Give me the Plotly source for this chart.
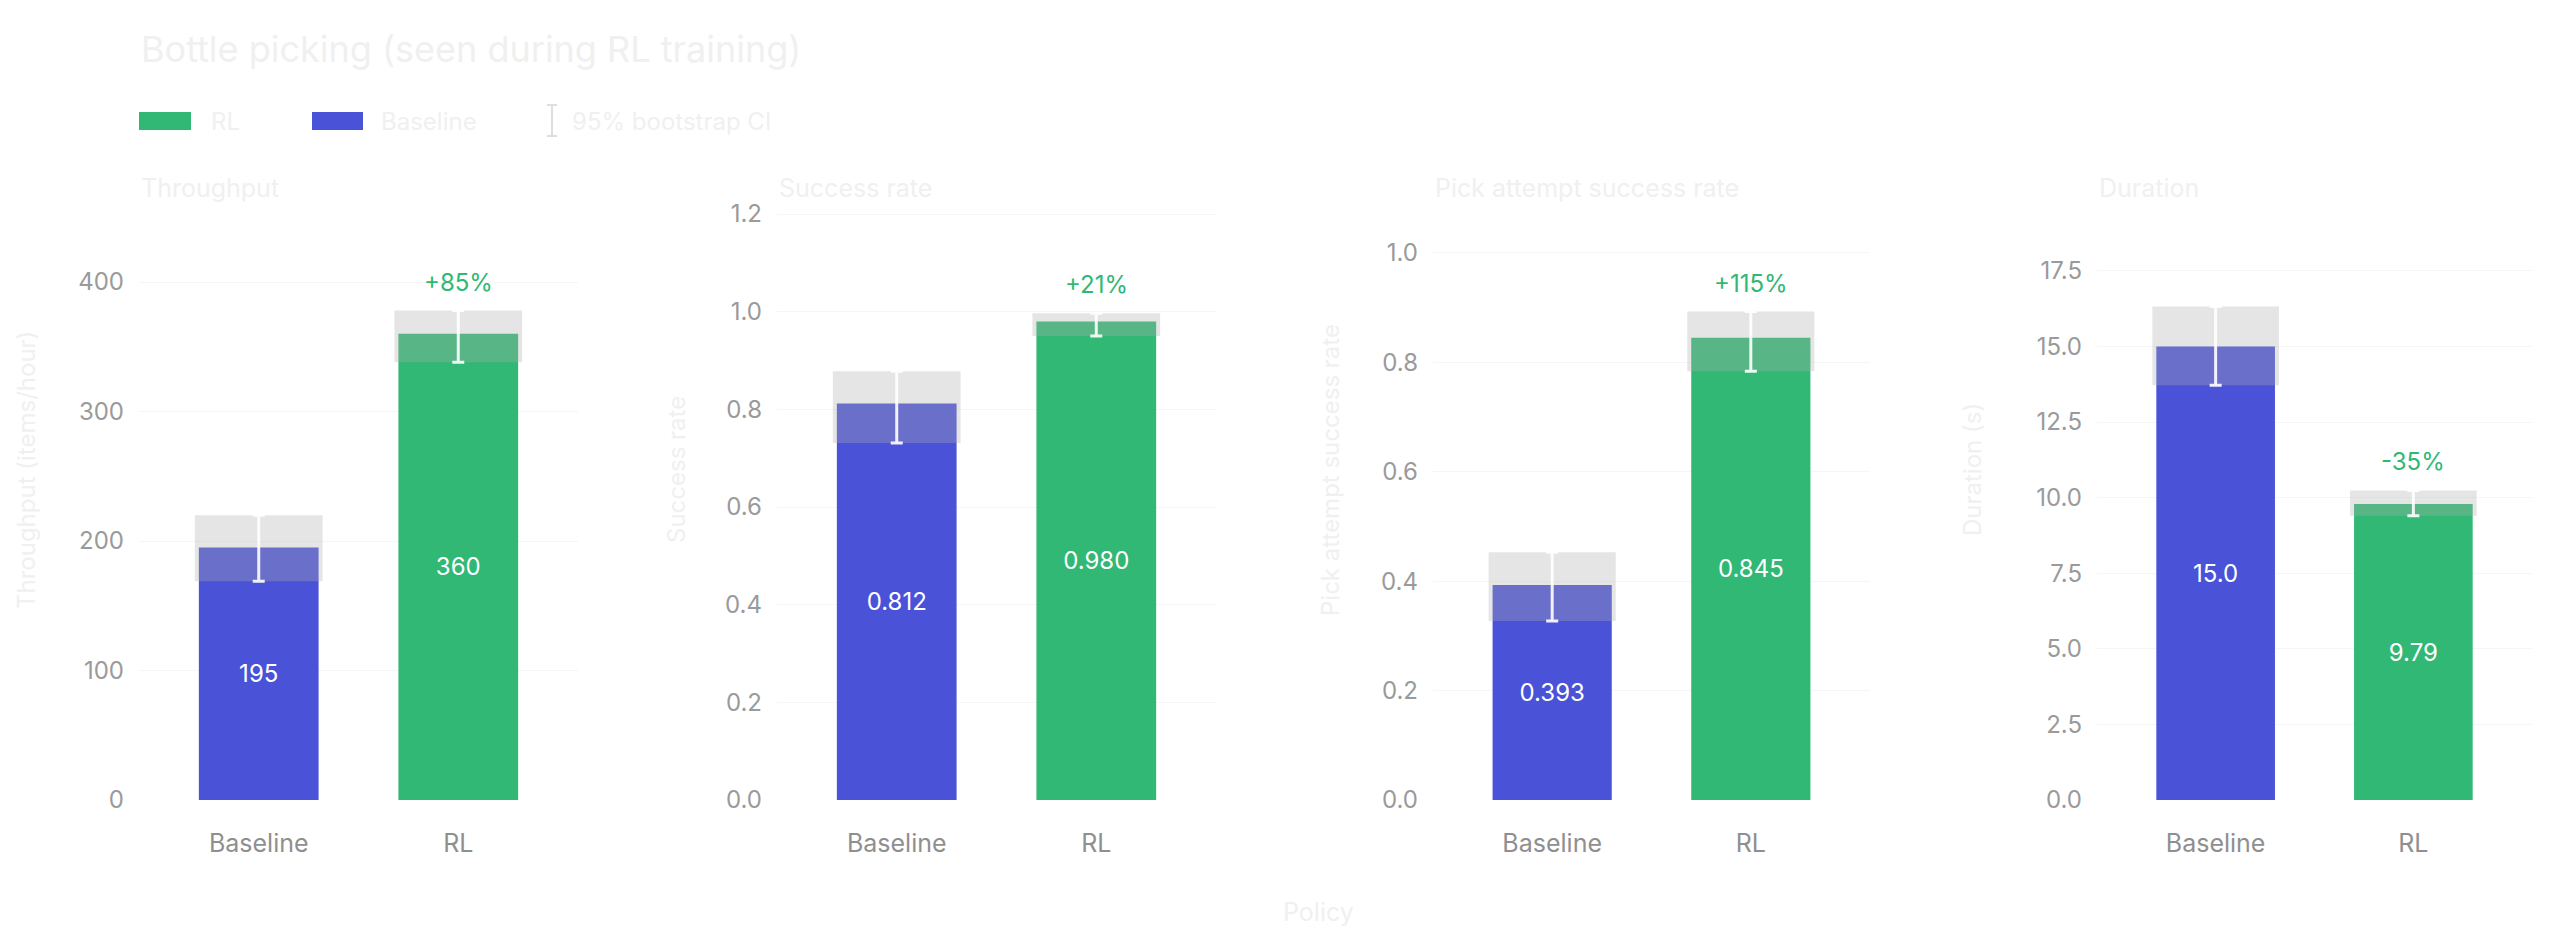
import plotly.graph_objects as go

# ---------------- data ----------------
categories = ["Baseline", "RL"]
panel_titles = ["Throughput", "Success rate", "Pick attempt success rate", "Duration"]
y_titles = ["Throughput (items/hour)", "Success rate", "Pick attempt success rate", "Duration (s)"]

throughput = [195, 360]
throughput_lo = [169, 338]
throughput_hi = [220, 378]

success = [0.812, 0.980]
success_lo = [0.731, 0.950]
success_hi = [0.878, 0.997]

pick = [0.393, 0.845]
pick_lo = [0.327, 0.784]
pick_hi = [0.453, 0.893]

duration = [15.0, 9.79]
duration_lo = [13.72, 9.40]
duration_hi = [16.32, 10.24]

value_labels = [["195", "360"], ["0.812", "0.980"], ["0.393", "0.845"], ["15.0", "9.79"]]
change_labels = ["+85%", "+21%", "+115%", "-35%"]

tick_vals = [
    [0, 100, 200, 300, 400],
    [0.0, 0.2, 0.4, 0.6, 0.8, 1.0, 1.2],
    [0.0, 0.2, 0.4, 0.6, 0.8, 1.0],
    [0.0, 2.5, 5.0, 7.5, 10.0, 12.5, 15.0, 17.5],
]
tick_formats = ["d", ".1f", ".1f", ".1f"]

# ---------------- styling ----------------
W, H = 2560, 945
FONT = "Inter, 'Noto Sans', sans-serif"
GREEN = "#30b874"
BLUE = "#4a52d8"
CI_FILL = "rgba(174,174,174,0.32)"
FAINT = "#f6f6f6"
TICK = "#9a9a9a"
PALE = "#f0f0f0"


def px(x):
    return x / W


def py(y):
    return 1 - y / H


series = [
    (throughput, throughput_lo, throughput_hi),
    (success, success_lo, success_hi),
    (pick, pick_lo, pick_hi),
    (duration, duration_lo, duration_hi),
]
x_domains_px = [(139, 578), (777, 1216), (1433, 1870), (2097, 2532)]
y_ranges = [459.5, 1.2185, 1.0877, 19.68]
ytitle_x_px = [26, 676, 1330, 1972]
plot_top, plot_bottom = 205, 800

fig = go.Figure()
annotations = []
shapes = []
layout_axes = {}

for i, (vals, lo, hi) in enumerate(series):
    n = "" if i == 0 else str(i + 1)
    xa, ya = "x" + n, "y" + n
    colors = [BLUE, GREEN]
    fig.add_trace(go.Bar(
        x=categories, y=vals, xaxis=xa, yaxis=ya, width=0.6,
        marker=dict(color=colors, line=dict(width=0)),
        text=value_labels[i], textposition="inside", insidetextanchor="middle",
        textfont=dict(color="white", size=24, family=FONT),
        hoverinfo="skip", showlegend=False,
    ))
    fig.add_trace(go.Bar(
        x=categories, y=[h - l for h, l in zip(hi, lo)], base=lo,
        xaxis=xa, yaxis=ya, width=0.64,
        marker=dict(color=CI_FILL, line=dict(width=0)),
        hoverinfo="skip", showlegend=False,
    ))
    fig.add_trace(go.Scatter(
        x=categories, y=vals, xaxis=xa, yaxis=ya, mode="markers",
        marker=dict(size=1, color="rgba(0,0,0,0)"),
        error_y=dict(type="data", symmetric=False,
                     array=[h - v for h, v in zip(hi, vals)],
                     arrayminus=[v - l for v, l in zip(vals, lo)],
                     color="rgba(255,255,255,0.9)", thickness=3, width=6),
        hoverinfo="skip", showlegend=False,
    ))
    x0, x1 = x_domains_px[i]
    layout_axes["xaxis" + n] = dict(
        domain=[px(x0), px(x1)], anchor=ya, type="category", automargin=False,
        range=[-0.6, 1.6], showgrid=False, zeroline=False, showline=False,
        ticks="", tickfont=dict(size=25, color="#8f8f8f", family=FONT),
        ticklabelstandoff=26,
    )
    layout_axes["yaxis" + n] = dict(
        domain=[py(plot_bottom), py(plot_top)], anchor=xa, automargin=False,
        range=[0, y_ranges[i]], tickvals=tick_vals[i], tickformat=tick_formats[i],
        showgrid=True, gridcolor=FAINT, gridwidth=1, zeroline=False, showline=False,
        ticks="", tickfont=dict(size=24, color=TICK, family=FONT),
        ticklabelstandoff=14,
    )
    # change label above RL CI
    annotations.append(dict(
        x="RL", y=hi[1], xref=xa, yref=ya, text=change_labels[i],
        showarrow=False, yanchor="bottom", yshift=12,
        font=dict(size=24, color=GREEN, family=FONT),
    ))
    # panel title
    annotations.append(dict(
        x=px(x0), y=py(188), xref="paper", yref="paper", text=panel_titles[i],
        showarrow=False, xanchor="left", yanchor="middle",
        font=dict(size=25, color=PALE, family=FONT),
    ))
    # y-axis title
    annotations.append(dict(
        x=px(ytitle_x_px[i]), y=py(470), xref="paper", yref="paper", text=y_titles[i],
        showarrow=False, textangle=-90, xanchor="center", yanchor="middle",
        font=dict(size=24, color=PALE, family=FONT),
    ))

# main title
annotations.append(dict(
    x=px(139), y=py(49), xref="paper", yref="paper",
    text="Bottle picking (seen during RL training)", showarrow=False,
    xanchor="left", yanchor="middle", font=dict(size=36, color=PALE, family=FONT),
))
# shared x-axis title
annotations.append(dict(
    x=px(1318), y=py(912), xref="paper", yref="paper", text="Policy", showarrow=False,
    xanchor="center", yanchor="middle", font=dict(size=25, color=PALE, family=FONT),
))

# legend (manual)
legend_y = 121
shapes.append(dict(type="rect", xref="paper", yref="paper", x0=px(139), x1=px(191),
                   y0=py(legend_y + 9), y1=py(legend_y - 9), fillcolor=GREEN, line=dict(width=0)))
annotations.append(dict(x=px(209), y=py(legend_y), xref="paper", yref="paper", text="RL",
                        showarrow=False, xanchor="left", yanchor="middle",
                        font=dict(size=24, color=PALE, family=FONT)))
shapes.append(dict(type="rect", xref="paper", yref="paper", x0=px(312), x1=px(363),
                   y0=py(legend_y + 9), y1=py(legend_y - 9), fillcolor=BLUE, line=dict(width=0)))
annotations.append(dict(x=px(379), y=py(legend_y), xref="paper", yref="paper", text="Baseline",
                        showarrow=False, xanchor="left", yanchor="middle",
                        font=dict(size=24, color=PALE, family=FONT)))
ci_col = "#dedede"
shapes.append(dict(type="line", xref="paper", yref="paper", x0=px(552), x1=px(552),
                   y0=py(105), y1=py(136), line=dict(color=ci_col, width=2)))
shapes.append(dict(type="line", xref="paper", yref="paper", x0=px(547), x1=px(557),
                   y0=py(105), y1=py(105), line=dict(color=ci_col, width=2)))
shapes.append(dict(type="line", xref="paper", yref="paper", x0=px(547), x1=px(557),
                   y0=py(136), y1=py(136), line=dict(color=ci_col, width=2)))
annotations.append(dict(x=px(570), y=py(legend_y), xref="paper", yref="paper", text="95% bootstrap CI",
                        showarrow=False, xanchor="left", yanchor="middle",
                        font=dict(size=24, color=PALE, family=FONT)))

fig.update_layout(
    width=W, height=H, margin=dict(l=0, r=0, t=0, b=0, autoexpand=False),
    paper_bgcolor="white", plot_bgcolor="white",
    barmode="overlay", showlegend=False,
    font=dict(family=FONT),
    annotations=annotations, shapes=shapes,
    **layout_axes,
)

fig.write_html("out.html")
